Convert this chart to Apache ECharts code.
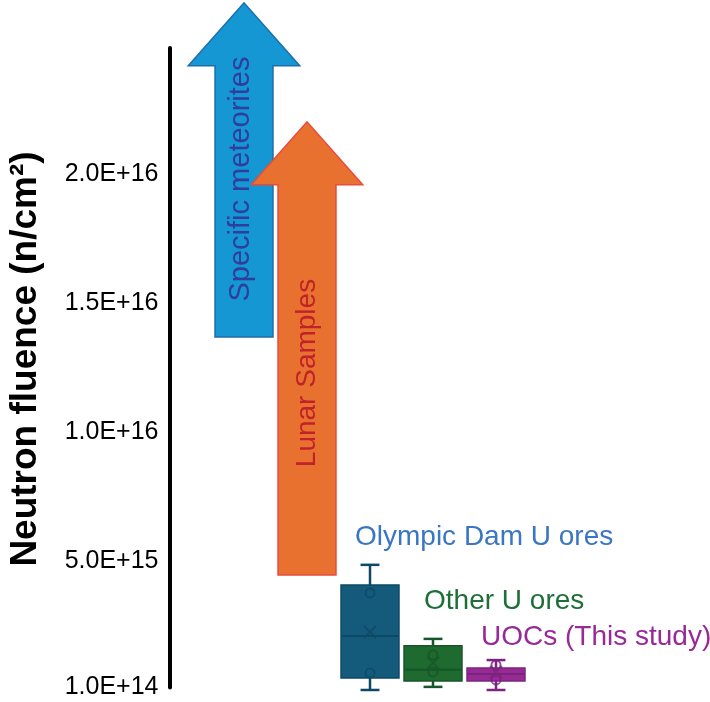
<!DOCTYPE html>
<html>
<head>
<meta charset="utf-8">
<script src="https://cdn.jsdelivr.net/npm/echarts@6/dist/echarts.min.js"></script>
<style>
  html, body { margin: 0; padding: 0; background: #fff; }
  #main { width: 710px; height: 702px; }
</style>
</head>
<body>
<div id="main"></div>
<script>
// categories along the (hidden) x axis
var categories = ['Specific meteorites', 'Lunar Samples', 'Olympic Dam U ores', 'Other U ores', 'UOCs (This study)'];

// arrows: lower bound and tip of the range (n/cm2)
var arrowNames = ['Specific meteorites', 'Lunar Samples'];
var arrowLow = [1.368e16, 4.46e15];
var arrowTip = [2.663e16, 2.202e16];

// box plots
var boxNames = ['Olympic Dam U ores', 'Other U ores', 'UOCs (This study)'];
var boxMin = [0, 1.2e14, 0];
var boxQ1 = [4.65e14, 3.5e14, 3.5e14];
var boxMedian = [2.09e15, 7.8e14, 6.2e14];
var boxQ3 = [4.07e15, 1.71e15, 8.5e14];
var boxMax = [4.85e15, 1.98e15, 1.16e15];
var boxMean = [2.25e15, 1.05e15, 7.0e14];
var boxPoints = [[3.76e15, 6.6e14], [1.36e15, 7.0e14], [9.7e14, 3.9e14]];

// y axis tick labels
var tickValues = [1e14, 5e15, 1e16, 1.5e16, 2e16];

var arrowFill = ['#1597d4', '#e9712f'];
var arrowEdge = ['#1c6ea8', '#e84b3c'];
var arrowText = ['#2f3d9c', '#c0222a'];
var boxFill = ['#145b7b', '#1f6a2f', '#962c93'];
var boxLine = ['#0e4864', '#175628', '#7c2380'];
var boxText = ['#3a76c2', '#1e6e37', '#982a98'];

var HEAD_H = 63;

function renderArrow(params, api) {
  var c = api.value(0);
  var base = api.coord([c, api.value(1)]);
  var tip = api.coord([c, api.value(2)]);
  var band = api.size([1, 0])[0];
  var sw = band * 0.92, hw = band * 1.77;
  var cx = base[0], hy = tip[1] + HEAD_H;
  var i = params.dataIndex;
  return {
    type: 'polygon',
    shape: {
      points: [
        [cx - sw / 2, base[1]], [cx - sw / 2, hy], [cx - hw / 2, hy], [cx, tip[1]],
        [cx + hw / 2, hy], [cx + sw / 2, hy], [cx + sw / 2, base[1]]
      ]
    },
    style: { fill: arrowFill[i], stroke: arrowEdge[i], lineWidth: 1.5 }
  };
}

function renderBox(params, api) {
  var i = params.dataIndex;
  var c = api.value(0);
  var pMin = api.coord([c, api.value(1)]);
  var pQ1 = api.coord([c, api.value(2)]);
  var pMed = api.coord([c, api.value(3)]);
  var pQ3 = api.coord([c, api.value(4)]);
  var pMax = api.coord([c, api.value(5)]);
  var band = api.size([1, 0])[0];
  var bw = band * 0.92, cw = band * 0.3;
  var x = pMed[0];
  var ln = { stroke: boxLine[i], lineWidth: 2.5 };
  return {
    type: 'group',
    children: [
      { type: 'line', shape: { x1: x, y1: pMax[1], x2: x, y2: pQ3[1] }, style: ln },
      { type: 'line', shape: { x1: x, y1: pQ1[1], x2: x, y2: pMin[1] }, style: ln },
      { type: 'line', shape: { x1: x - cw / 2, y1: pMax[1], x2: x + cw / 2, y2: pMax[1] }, style: ln },
      { type: 'line', shape: { x1: x - cw / 2, y1: pMin[1], x2: x + cw / 2, y2: pMin[1] }, style: ln },
      { type: 'rect', shape: { x: x - bw / 2, y: pQ3[1], width: bw, height: pQ1[1] - pQ3[1] },
        style: { fill: boxFill[i], stroke: boxLine[i], lineWidth: 1.5 } },
      { type: 'line', shape: { x1: x - bw / 2, y1: pMed[1], x2: x + bw / 2, y2: pMed[1] },
        style: { stroke: boxLine[i], lineWidth: 2 } }
    ]
  };
}

var arrowData = [];
for (var i = 0; i < arrowNames.length; i++) {
  arrowData.push([categories.indexOf(arrowNames[i]), arrowLow[i], arrowTip[i]]);
}
var boxData = [], pointData = [], meanData = [];
for (var i = 0; i < boxNames.length; i++) {
  var c = categories.indexOf(boxNames[i]);
  boxData.push([c, boxMin[i], boxQ1[i], boxMedian[i], boxQ3[i], boxMax[i]]);
  meanData.push({ value: [c, boxMean[i]], itemStyle: { borderColor: boxLine[i] } });
  for (var j = 0; j < boxPoints[i].length; j++) {
    pointData.push({ value: [c, boxPoints[i][j]], itemStyle: { borderColor: boxLine[i] } });
  }
}

var font = '"Liberation Sans", Arial, sans-serif';
var graphics = [
  { type: 'text', x: 26, y: 359, rotation: Math.PI / 2, z: 100,
    style: { text: 'Neutron fluence (n/cm²)', font: 'bold 37px ' + font, fill: '#000', align: 'center', verticalAlign: 'middle' } },
  { type: 'text', x: 241, y: 179, rotation: Math.PI / 2, z: 100,
    style: { text: arrowNames[0], font: '29px ' + font, fill: arrowText[0], align: 'center', verticalAlign: 'middle' } },
  { type: 'text', x: 307, y: 373, rotation: Math.PI / 2, z: 100,
    style: { text: arrowNames[1], font: '28px ' + font, fill: arrowText[1], align: 'center', verticalAlign: 'middle' } },
  { type: 'text', x: 355, y: 537, z: 100,
    style: { text: boxNames[0], font: '28px ' + font, fill: boxText[0], align: 'left', verticalAlign: 'middle' } },
  { type: 'text', x: 424, y: 601, z: 100,
    style: { text: boxNames[1], font: '28px ' + font, fill: boxText[1], align: 'left', verticalAlign: 'middle' } },
  { type: 'text', x: 481, y: 637, z: 100,
    style: { text: boxNames[2], font: '28px ' + font, fill: boxText[2], align: 'left', verticalAlign: 'middle' } }
];

var option = {
  animation: false,
  backgroundColor: '#fff',
  grid: { left: 212.5, right: 182.5, top: 48, bottom: 14.6 },
  xAxis: { type: 'category', data: categories, show: false },
  yAxis: {
    type: 'value',
    min: 1e14,
    max: 2.488e16,
    offset: 43,
    axisLine: { show: true, lineStyle: { color: '#000', width: 4 } },
    axisTick: { show: false },
    splitLine: { show: false },
    axisLabel: {
      customValues: tickValues,
      margin: 11,
      color: '#000',
      fontSize: 25,
      fontFamily: font,
      formatter: function (v) { return v.toExponential(1).toUpperCase(); }
    }
  },
  graphic: graphics,
  series: [
    { type: 'custom', renderItem: renderArrow, data: arrowData, clip: false, z: 2 },
    { type: 'custom', renderItem: renderBox, data: boxData, clip: false, z: 3 },
    { type: 'scatter', data: pointData, symbol: 'circle', symbolSize: 9, z: 4,
      itemStyle: { color: 'transparent', borderWidth: 2 } },
    { type: 'scatter', data: meanData, symbol: 'path://M0,0L10,10M10,0L0,10', symbolSize: 12, z: 4,
      itemStyle: { color: 'transparent', borderWidth: 2 } }
  ]
};

var myChart = echarts.init(document.getElementById('main'));
myChart.setOption(option);
</script>
</body>
</html>
